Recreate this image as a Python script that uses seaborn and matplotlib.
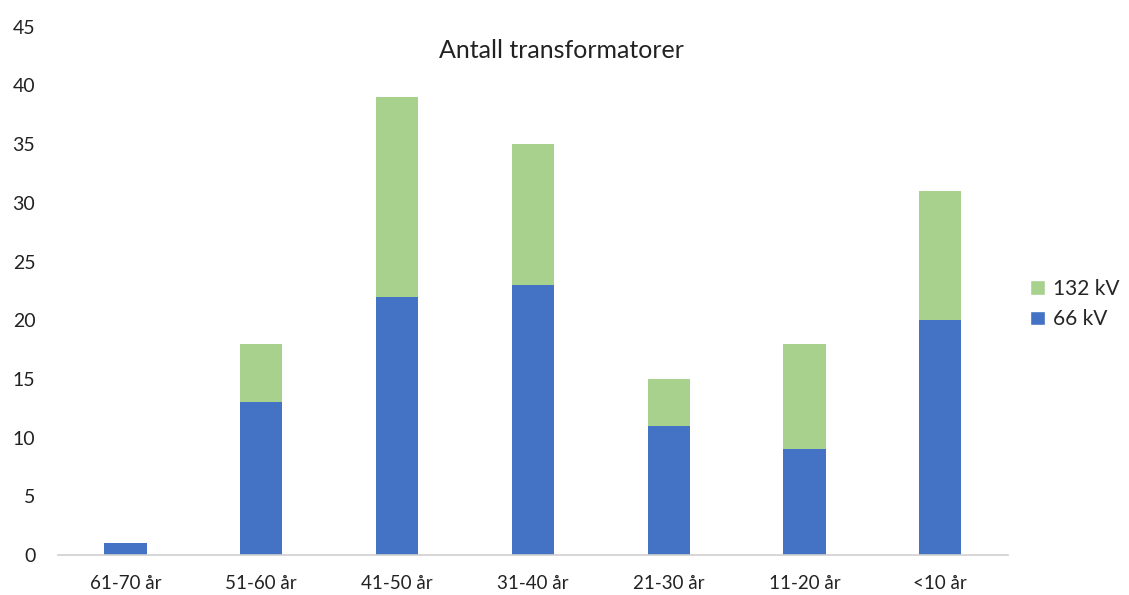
import numpy as np
import pandas as pd
import seaborn as sns
from matplotlib import pyplot as plt
from matplotlib.patches import Patch

categories = ["61-70 år", "51-60 år", "41-50 år", "31-40 år", "21-30 år", "11-20 år", "<10 år"]
kv66 = [1, 13, 22, 23, 11, 9, 20]
kv132 = [0, 5, 17, 12, 4, 9, 11]

blue = "#4472C4"
green = "#A9D18E"

df = pd.DataFrame({"alder": categories, "66 kV": kv66, "132 kV": kv132})
df["total"] = df["66 kV"] + df["132 kV"]

sns.set_style("white")
plt.rcParams["font.family"] = ["Lato", "DejaVu Sans"]

fig = plt.figure(figsize=(11.29, 5.95), dpi=100)
ax = fig.add_axes([0.051, 0.067, 0.842, 0.888])

# stacked: total in green, 66 kV in blue over it
sns.barplot(data=df, x="alder", y="total", order=categories, color=green,
            width=0.31, saturation=1, linewidth=0, ax=ax)
sns.barplot(data=df, x="alder", y="66 kV", order=categories, color=blue,
            width=0.31, saturation=1, linewidth=0, ax=ax)

ax.set_ylim(0, 45)
ax.set_xlim(-0.5, len(categories) - 0.5)
ax.set_yticks(range(0, 46, 5))
ax.set_xlabel("")
ax.set_ylabel("")
ax.tick_params(axis="both", length=0, colors="#222222")
ax.tick_params(axis="x", pad=14, labelsize=13.5)
ax.tick_params(axis="y", pad=16, labelsize=14)

for s in ["top", "right", "left"]:
    ax.spines[s].set_visible(False)
ax.spines["bottom"].set_color("#d0d0d0")
ax.spines["bottom"].set_linewidth(1.2)

ax.text(0.53, 43.0, "Antall transformatorer", transform=ax.get_yaxis_transform(),
        ha="center", va="center", fontsize=18, color="#222222")

handles = [Patch(facecolor=green, label="132 kV"), Patch(facecolor=blue, label="66 kV")]
ax.legend(handles=handles, loc="center left", bbox_to_anchor=(1.008, 0.475), frameon=False,
          fontsize=15, handlelength=0.7, handleheight=0.7, handletextpad=0.4,
          labelspacing=0.5, borderpad=0.2)

fig.savefig("out.png", dpi=100, facecolor="white")
